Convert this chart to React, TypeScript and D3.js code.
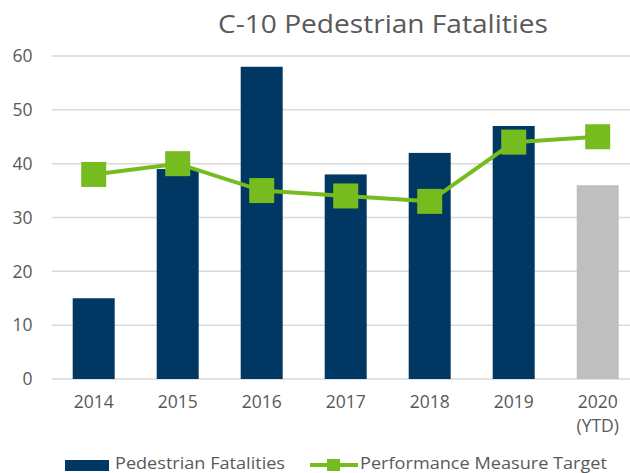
import React from "react";
import * as d3 from "d3";

const categories = ["2014", "2015", "2016", "2017", "2018", "2019", "2020"];
const categorySubLabels = ["", "", "", "", "", "", "(YTD)"];
const fatalities = [15, 39, 58, 38, 42, 47, 36];
const isYTD = [false, false, false, false, false, false, true];
const target = [38, 40, 35, 34, 33, 44, 45];
const yTicks = [0, 10, 20, 30, 40, 50, 60];
const title = "C-10 Pedestrian Fatalities";
const legendBar = "Pedestrian Fatalities";
const legendLine = "Performance Measure Target";

const W = 630;
const H = 473;
const NAVY = "#003763";
const GREEN = "#77BC1F";
const GRAY_BAR = "#BFBFBF";
const TEXT = "#595959";
const GRID = "#D9D9D9";
const FONT = "'Open Sans', 'Noto Sans', sans-serif";

export default function App() {
  const x = d3
    .scaleBand<string>()
    .domain(categories)
    .range([51.7, 639.7])
    .paddingInner(0.5)
    .paddingOuter(0.25);
  const y = d3.scaleLinear().domain([0, 60]).range([379, 56]);
  const bw = x.bandwidth();
  const cx = (c: string) => (x(c) as number) + bw / 2;

  const line = d3
    .line<number>()
    .x((_, i) => cx(categories[i]))
    .y((d) => y(d));

  const ms = 25;

  return (
    <svg
      width={W}
      height={H}
      style={{ position: "absolute", left: 0, top: 0, background: "#fff" }}
      fontFamily={FONT}
    >
      <text
        x={218}
        y={33.3}
        fontSize={25}
        fill={TEXT}
        textLength={330}
        lengthAdjust="spacingAndGlyphs"
      >
        {title}
      </text>

      {yTicks.map((t) => (
        <g key={t}>
          <line
            x1={51.7}
            x2={W}
            y1={y(t)}
            y2={y(t)}
            stroke={GRID}
            strokeWidth={1.5}
          />
          <text
            x={32.5}
            y={y(t)}
            dy="0.36em"
            textAnchor="end"
            fontSize={17.5}
            fill={TEXT}
          >
            {t}
          </text>
        </g>
      ))}

      {fatalities.map((v, i) => (
        <rect
          key={categories[i]}
          x={x(categories[i])}
          y={y(v)}
          width={bw}
          height={y(0) - y(v)}
          fill={isYTD[i] ? GRAY_BAR : NAVY}
        />
      ))}

      <path
        d={line(target) || ""}
        fill="none"
        stroke={GREEN}
        strokeWidth={4}
        strokeLinejoin="round"
      />
      {target.map((v, i) => (
        <rect
          key={"m" + i}
          x={cx(categories[i]) - ms / 2}
          y={y(v) - ms / 2}
          width={ms}
          height={ms}
          fill={GREEN}
        />
      ))}

      {categories.map((c, i) => (
        <g key={"xl" + c}>
          <text
            x={cx(c)}
            y={408}
            textAnchor="middle"
            fontSize={17.5}
            fill={TEXT}
          >
            {c}
          </text>
          {categorySubLabels[i] && (
            <text
              x={cx(c)}
              y={432}
              textAnchor="middle"
              fontSize={17.5}
              fill={TEXT}
            >
              {categorySubLabels[i]}
            </text>
          )}
        </g>
      ))}

      <g>
        <rect x={65} y={460} width={44} height={11} fill={NAVY} />
        <text
          x={115}
          y={468.5}
          fontSize={17}
          fill={TEXT}
          textLength={170}
          lengthAdjust="spacingAndGlyphs"
        >
          {legendBar}
        </text>
        <line
          x1={310}
          x2={358}
          y1={465}
          y2={465}
          stroke={GREEN}
          strokeWidth={4}
        />
        <rect x={327} y={459} width={13} height={12} fill={GREEN} />
        <text
          x={360}
          y={468.5}
          fontSize={17}
          fill={TEXT}
          textLength={247}
          lengthAdjust="spacingAndGlyphs"
        >
          {legendLine}
        </text>
      </g>
    </svg>
  );
}
